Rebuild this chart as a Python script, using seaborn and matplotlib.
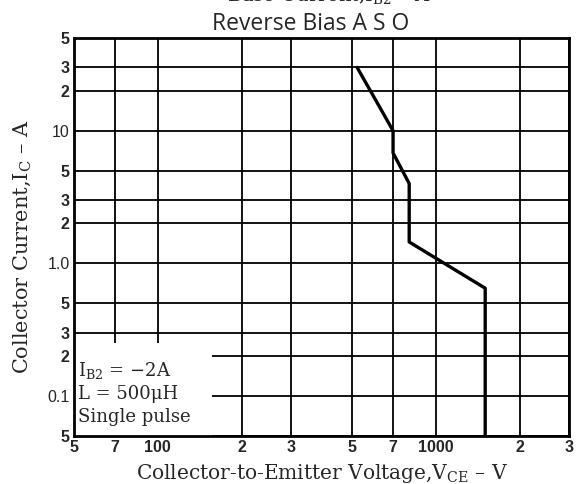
import matplotlib
matplotlib.use("Agg")
import matplotlib.pyplot as plt
import seaborn as sns
import pandas as pd
from matplotlib.patches import Rectangle
from matplotlib.ticker import FixedLocator, NullLocator

# ---- data ----
vce = [520, 700, 700, 800, 800, 1500, 1500]
ic = [30, 10, 6.8, 4.0, 1.45, 0.65, 0.05]

x_ticks = [50, 70, 100, 200, 300, 500, 700, 1000, 2000, 3000]
x_labels = ["5", "7", "100", "2", "3", "5", "7", "1000", "2", "3"]
y_ticks = [0.05, 0.1, 0.2, 0.3, 0.5, 1.0, 2, 3, 5, 10, 20, 30, 50]
y_labels = ["5", "0.1", "2", "3", "5", "1.0", "2", "3", "5", "10", "2", "3", "5"]

title = "Reverse Bias A S O"
top_text = "Base Current,I$_{\\mathrm{B2}}$ \u2013 A"
xlabel = "Collector-to-Emitter Voltage,V$_{\\mathrm{CE}}$ \u2013 V"
ylabel = "Collector Current,I$_{\\mathrm{C}}$ \u2013 A"
note_lines = ["I$_{\\mathrm{B2}}$ = \u22122A", "L = 500\u03bcH", "Single pulse"]

sns.set_style("white")
plt.rcParams["mathtext.fontset"] = "custom"
plt.rcParams["mathtext.rm"] = "DejaVu Serif"
plt.rcParams["mathtext.it"] = "DejaVu Serif:italic"
plt.rcParams["font.family"] = ["DejaVu Serif", "DejaVu Sans"]

df = pd.DataFrame({"vce": vce, "ic": ic})

fig = plt.figure(figsize=(5.85, 4.84), dpi=100)
ax = fig.add_axes([74 / 585, 1 - 436 / 484, (569 - 74) / 585, (436 - 38) / 484])

sns.lineplot(data=df, x="vce", y="ic", ax=ax, color="black", linewidth=2.4,
             sort=False, estimator=None, zorder=4)

ax.set_xscale("log")
ax.set_yscale("log")
ax.set_xlim(50, 3000)
ax.set_ylim(0.05, 50)

ax.xaxis.set_major_locator(FixedLocator(x_ticks))
ax.yaxis.set_major_locator(FixedLocator(y_ticks))
ax.xaxis.set_minor_locator(NullLocator())
ax.yaxis.set_minor_locator(NullLocator())
ax.set_xticklabels(x_labels, fontfamily="Liberation Sans", fontweight="bold", fontsize=11.5)
ax.set_yticklabels(y_labels, fontfamily="Liberation Sans", fontweight="bold", fontsize=11.5)
for lab in ax.get_yticklabels():
    if lab.get_text() in ("10", "1.0", "0.1"):
        lab.set_fontweight("normal")
ax.tick_params(axis="both", length=0, pad=3)

ax.set_axisbelow(True)
ax.grid(True, color="black", linewidth=1.3)
for s in ax.spines.values():
    s.set_visible(True)
    s.set_color("black")
    s.set_linewidth(2.0)

# white note area covering the grid in the lower-left corner
ax.add_patch(Rectangle((50, 0.05), 156 - 50, 0.25 - 0.05, facecolor="white",
                       edgecolor="none", zorder=1))
for i, t in enumerate(note_lines):
    ax.text(0.008, 0.165 - i * 0.059, t, transform=ax.transAxes, fontsize=13,
            ha="left", va="center", zorder=5)

ax.set_xlabel(xlabel, fontsize=14.5)
ax.set_ylabel(ylabel, fontsize=15)
ax.xaxis.set_label_coords(0.5, -0.066)
ax.yaxis.set_label_coords(-0.082, 0.475)

fig.text(311 / 585, 1 - 24 / 484, title, fontsize=16.5, ha="center", va="center",
         family=["Open Sans", "DejaVu Sans"])
fig.text(329 / 585, 1 - 1 / 484, top_text, fontsize=14, ha="center", va="baseline")

fig.savefig("out.png", dpi=100)
